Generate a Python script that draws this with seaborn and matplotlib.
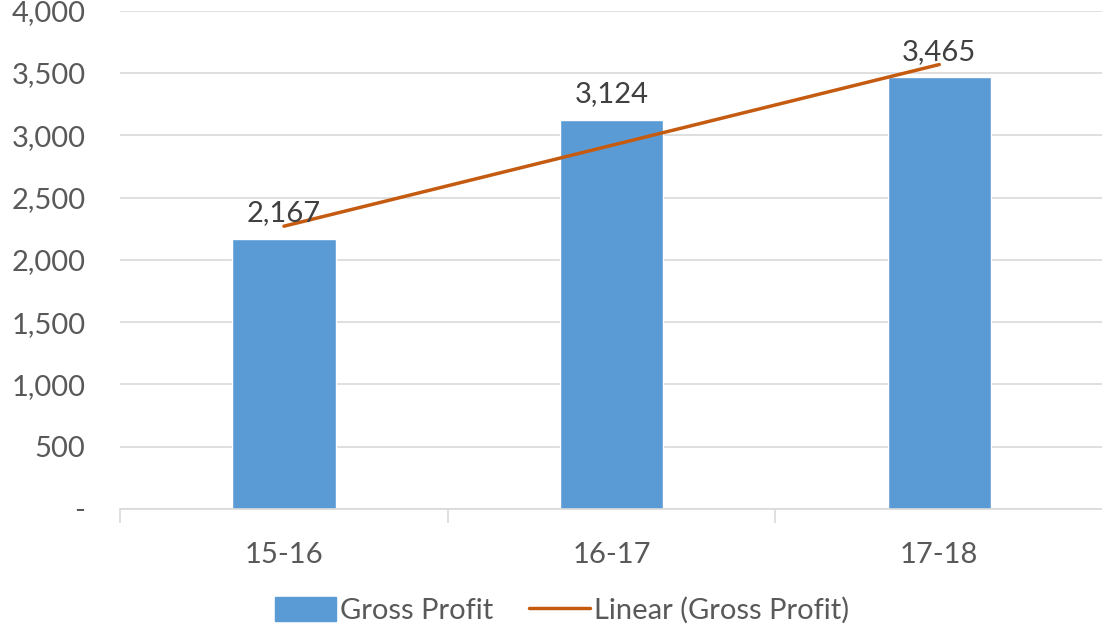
"""Gross profit by year with a linear trendline."""

import numpy as np
import pandas as pd
import seaborn as sns
import matplotlib
matplotlib.use('Agg')
import matplotlib.pyplot as plt
from matplotlib.ticker import FuncFormatter, FixedLocator
from matplotlib.patches import Patch
from matplotlib.lines import Line2D

###
#Data
YEARS = ['15-16', '16-17', '17-18']
GROSS_PROFIT = [2167, 3124, 3465]

BAR_COLOR = '#5B9BD5'
TREND_COLOR = '#C55A11'
TEXT_COLOR = '#595959'
GRID_COLOR = '#D9D9D9'

sns.set_theme(style='white')
plt.rcParams['font.family'] = ['Lato', 'DejaVu Sans']

df = pd.DataFrame({'year': YEARS, 'profit': GROSS_PROFIT})

fig = plt.figure(figsize=(11.02, 6.29), dpi=100)
ax = fig.add_axes([0.109, 0.191, 0.892, 0.792])

sns.barplot(data=df, x='year', y='profit', color=BAR_COLOR, width=0.315,
            saturation=1, ax=ax, zorder=2)

#Linear trendline (least squares, like Excel)
xs = np.arange(len(GROSS_PROFIT))
slope, intercept = np.polyfit(xs, GROSS_PROFIT, 1)
ax.plot([xs[0], xs[-1]], [intercept, slope * xs[-1] + intercept],
        color=TREND_COLOR, lw=2.5, zorder=3)

#Value labels
for x, v in zip(xs, GROSS_PROFIT):
    ax.text(x, v + 100, f'{v:,}', ha='center', va='bottom',
            fontsize=21, color='#404040', zorder=4)

ax.set_xlim(-0.5, 2.5)
ax.set_ylim(0, 4000)
ax.set_yticks(np.arange(0, 4001, 500))
ax.yaxis.set_major_formatter(
    FuncFormatter(lambda v, p: '-' if v == 0 else f'{int(v):,}'))
ax.grid(axis='y', color=GRID_COLOR, lw=1.2, zorder=0)
ax.set_axisbelow(True)

for s in ['top', 'right', 'left']:
    ax.spines[s].set_visible(False)
ax.spines['bottom'].set_color(GRID_COLOR)
ax.spines['bottom'].set_linewidth(1.2)

ax.xaxis.set_minor_locator(FixedLocator([-0.5, 0.5, 1.5, 2.5]))
ax.tick_params(axis='x', which='minor', length=10, color=GRID_COLOR,
               width=1.2, bottom=True)
ax.tick_params(axis='x', which='major', length=0, pad=24,
               labelsize=21, labelcolor=TEXT_COLOR)
ax.tick_params(axis='y', length=0, pad=25, labelsize=21,
               labelcolor=TEXT_COLOR)
ax.set_xlabel('')
ax.set_ylabel('')

handles = [Patch(color=BAR_COLOR, label='Gross Profit'),
           Line2D([], [], color=TREND_COLOR, lw=2.5,
                  label='Linear (Gross Profit)')]
fig.legend(handles=handles, loc='lower center', bbox_to_anchor=(0.51, -0.034),
           ncol=2, frameon=False, fontsize=21, labelcolor=TEXT_COLOR,
           handlelength=2.1, handleheight=0.9, handletextpad=0.15,
           columnspacing=1.2)

fig.savefig('out.png', dpi=100)
